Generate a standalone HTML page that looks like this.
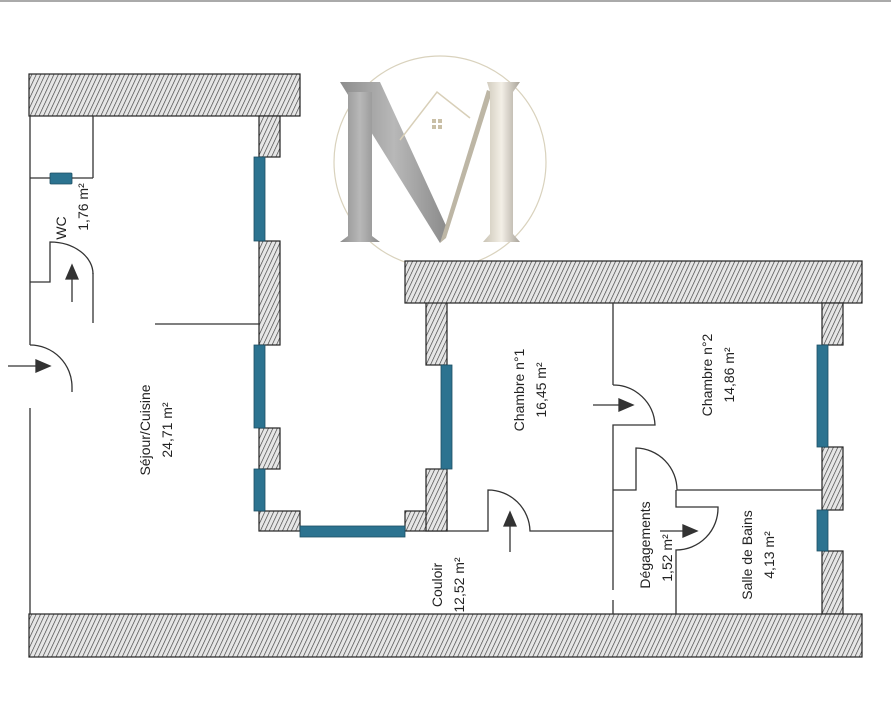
<!DOCTYPE html>
<html><head><meta charset="utf-8"><style>
html,body{margin:0;padding:0;background:#fff;}
svg{display:block;}
text{font-family:"Liberation Sans",sans-serif;font-size:14px;fill:#222;}
</style></head><body>
<svg width="891" height="727" viewBox="0 0 891 727" xmlns="http://www.w3.org/2000/svg">
<defs>
<pattern id="h" width="4" height="4" patternUnits="userSpaceOnUse" patternTransform="rotate(25)">
<rect width="4" height="4" fill="#e6e6e6"/>
<line x1="0" y1="0" x2="0" y2="4" stroke="#3a3a3a" stroke-width="1.3"/>
</pattern>
<linearGradient id="sil" x1="0" x2="1" y1="0" y2="0">
<stop offset="0" stop-color="#8d8d8d"/><stop offset="0.5" stop-color="#b8b8b8"/><stop offset="1" stop-color="#8a8a8a"/>
</linearGradient>
<linearGradient id="gold" x1="0" x2="1">
<stop offset="0" stop-color="#c9c3b4"/><stop offset="0.5" stop-color="#f3efe6"/><stop offset="1" stop-color="#a9a399"/>
</linearGradient>
</defs>
<rect width="891" height="727" fill="#fff"/>
<line x1="0" y1="1" x2="891" y2="1" stroke="#555" stroke-width="1"/>

<circle cx="440" cy="162" r="106" fill="none" stroke="#d9d2bd" stroke-width="1.2"/>
<polygon points="340,82 380,82 448,230 440,243" fill="url(#sil)"/>
<polygon points="348,92 372,92 372,236 380,242 340,242 348,236" fill="url(#sil)"/>
<polygon points="440,243 487,90 492,92 446,238" fill="#bdb6a5"/>
<polygon points="487,82 520,82 513,92 513,234 520,242 483,242 490,234 490,92" fill="url(#gold)"/>
<polyline points="400,140 437,92 470,118" fill="none" stroke="#d8cfb8" stroke-width="1.5"/>
<rect x="432" y="119" width="4" height="4" fill="#c9bfa6"/><rect x="438" y="119" width="4" height="4" fill="#c9bfa6"/>
<rect x="432" y="125" width="4" height="4" fill="#c9bfa6"/><rect x="438" y="125" width="4" height="4" fill="#c9bfa6"/>

<g fill="url(#h)" stroke="#222" stroke-width="1.2">
<rect x="29" y="74" width="271" height="42"/>
<rect x="259" y="116" width="21" height="41"/>
<rect x="259" y="241" width="21" height="104"/>
<rect x="259" y="428" width="21" height="41"/>
<rect x="259" y="511" width="41" height="20"/>
<rect x="405" y="511" width="42" height="20"/>
<rect x="426" y="469" width="21" height="62"/>
<rect x="426" y="302" width="21" height="63"/>
<rect x="405" y="261" width="457" height="42"/>
<rect x="822" y="303" width="21" height="42"/>
<rect x="822" y="447" width="21" height="63"/>
<rect x="822" y="551" width="21" height="63"/>
<rect x="29" y="614" width="833" height="43"/>
</g>
<g fill="#2c7390" stroke="#1d4f63" stroke-width="0.8">
<rect x="254" y="157" width="11" height="84"/>
<rect x="254" y="345" width="11" height="83"/>
<rect x="254" y="469" width="11" height="42"/>
<rect x="300" y="526" width="105" height="11"/>
<rect x="441" y="365" width="11" height="104"/>
<rect x="817" y="345" width="11" height="102"/>
<rect x="817" y="510" width="11" height="41"/>
<rect x="50" y="173" width="22" height="11" rx="1"/>
</g>

<g stroke="#333" stroke-width="1.3" fill="none">
<line x1="30" y1="116" x2="30" y2="345"/>
<line x1="30" y1="408" x2="30" y2="614"/>
<path d="M30,345 A42,42 0 0 1 72,387 L72,392"/>
<line x1="93" y1="116" x2="93" y2="178"/>
<line x1="93" y1="273" x2="93" y2="323"/>
<line x1="30" y1="178" x2="50" y2="178"/>
<line x1="72" y1="178" x2="93" y2="178"/>
<path d="M30,282 L50,282 L50,242 A43,32 0 0 1 93,274"/>
<line x1="155" y1="324" x2="259" y2="324"/>
<path d="M447,531 L488,531 L488,490 A42,42 0 0 1 530,531 L613,531"/>
<line x1="613" y1="303" x2="613" y2="385"/>
<path d="M613,385 A42,42 0 0 1 655,425 L613,425 L613,590"/>
<line x1="613" y1="600" x2="613" y2="614"/>
<path d="M613,490 L636,490 L636,448 A42,42 0 0 1 677,490 L822,490"/>
<path d="M676,490 L676,507 L718,507 A42,42 0 0 1 676,550 L676,614"/>
</g>
<g stroke="#333" stroke-width="1.3" fill="#333">
<line x1="8" y1="366" x2="38" y2="366"/><polygon points="50,366 36,360 36,372"/>
<line x1="72" y1="302" x2="72" y2="278"/><polygon points="72,265 66,279 78,279"/>
<line x1="510" y1="552" x2="510" y2="525"/><polygon points="510,512 504,526 516,526"/>
<line x1="593" y1="405" x2="620" y2="405"/><polygon points="633,405 619,399 619,411"/>
<line x1="660" y1="531" x2="684" y2="531"/><polygon points="697,531 683,525 683,537"/>
</g>

<g text-anchor="middle">
<text transform="translate(150,430) rotate(-90)">Séjour/Cuisine</text>
<text transform="translate(172,430) rotate(-90)">24,71  m²</text>
<text transform="translate(66,228) rotate(-90)">WC</text>
<text transform="translate(88,207) rotate(-90)">1,76  m²</text>
<text transform="translate(524,390) rotate(-90)">Chambre n°1</text>
<text transform="translate(546,390) rotate(-90)">16,45  m²</text>
<text transform="translate(712,375) rotate(-90)">Chambre n°2</text>
<text transform="translate(734,375) rotate(-90)">14,86  m²</text>
<text transform="translate(442,585) rotate(-90)">Couloir</text>
<text transform="translate(464,585) rotate(-90)">12,52  m²</text>
<text transform="translate(650,545) rotate(-90)">Dégagements</text>
<text transform="translate(672,558) rotate(-90)">1,52  m²</text>
<text transform="translate(752,555) rotate(-90)">Salle de Bains</text>
<text transform="translate(774,555) rotate(-90)">4,13  m²</text>
</g>
</svg>
</body></html>
